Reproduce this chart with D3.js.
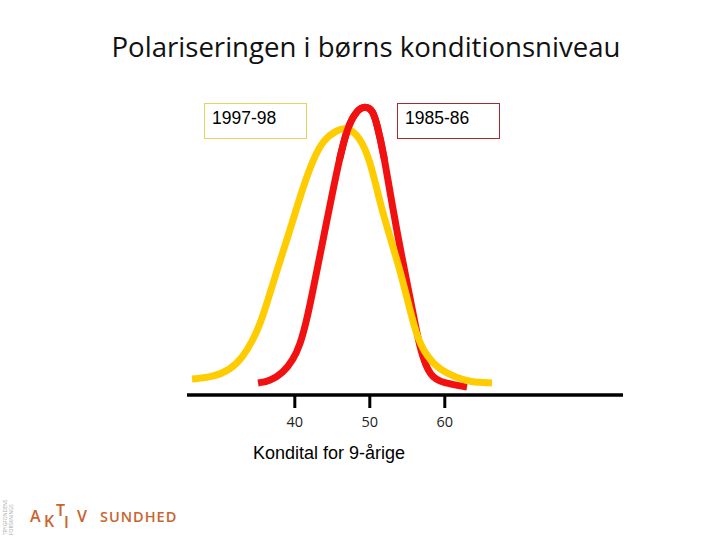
<!DOCTYPE html>
<html><head><meta charset="utf-8">
<script src="https://cdn.jsdelivr.net/npm/d3@7/dist/d3.min.js"></script>
<style>body{margin:0;background:#fff}svg{display:block}</style>
</head><body>
<svg id="c" width="720" height="540"></svg>
<script>
// Data (x = kondital, y = relative frequency)
const series = ["1997-98", "1985-86"];
const tickValues = [40, 50, 60];
const xLabel = "Kondital for 9-årige";
const title = "Polariseringen i børns konditionsniveau";

const yellowX = [26.36,29.16,31.43,33.16,34.49,35.69,37.69,39.43,41.16,42.49,43.83,45.69,47.03,48.76,50.09,51.43,52.76,54.09,55.43,56.36,57.69,59.43,61.69,63.43,66.36];
const yellowY = [5.42,6.10,8.47,12.88,18.64,25.42,42.37,55.93,70.51,79.66,86.44,89.83,90.85,87.46,79.66,65.08,53.56,42.37,28.81,19.66,12.88,8.47,5.76,4.41,4.07];
const redX = [35.16,36.76,38.49,39.83,40.76,41.69,43.03,44.36,45.69,47.03,48.36,49.43,50.49,51.03,51.83,53.16,54.49,55.69,56.76,58.09,59.83,63.03];
const redY = [4.07,4.75,7.46,11.86,16.95,25.42,42.37,59.32,76.27,90.85,96.61,97.97,96.61,91.53,83.05,62.71,44.75,29.83,15.25,6.10,4.07,2.71];

const svg = d3.select("#c");
const x = d3.scaleLinear().domain([25.69, 83.83]).range([187, 623]);
const y = d3.scaleLinear().domain([0, 100]).range([395, 100]);

// title
svg.append("text").attr("x", 366).attr("y", 57).attr("text-anchor", "middle")
  .attr("font-family", "Open Sans, sans-serif").attr("font-size", 27.6)
  .attr("fill", "#111").text(title);

// axis
const axis = d3.axisBottom(x).tickValues(tickValues).tickSize(13).tickSizeOuter(0).tickFormat(d3.format("d"));
const g = svg.append("g").attr("transform", "translate(0,395)").call(axis);
g.select(".domain").attr("stroke", "#000").attr("stroke-width", 3.5).attr("d", "M187,0H623");
g.selectAll(".tick line").attr("stroke", "#000").attr("stroke-width", 3);
g.selectAll(".tick text").attr("dy", 0).attr("y", 32)
  .attr("font-family", "Open Sans, sans-serif").attr("font-size", 14.5).attr("fill", "#222");

svg.append("text").attr("x", 253).attr("y", 459)
  .attr("font-family", "Liberation Sans, Arial, sans-serif").attr("font-size", 18)
  .attr("fill", "#000").text(xLabel);

const line = d3.line().x(d => x(d[0])).y(d => y(d[1])).curve(d3.curveBasis);
const yData = d3.zip(yellowX, yellowY);
const rData = d3.zip(redX, redY);

svg.append("defs").append("clipPath").attr("id", "top")
  .append("rect").attr("x", 0).attr("y", 0).attr("width", 720).attr("height", y(80));

svg.append("path").datum(rData).attr("d", line).attr("fill", "none")
  .attr("stroke", "#F21111").attr("stroke-width", 7).attr("stroke-linecap", "butt");
svg.append("path").datum(yData).attr("d", line).attr("fill", "none")
  .attr("stroke", "#FFCC00").attr("stroke-width", 7).attr("stroke-linecap", "butt");
svg.append("path").datum(rData).attr("d", line).attr("fill", "none").attr("clip-path", "url(#top)")
  .attr("stroke", "#F21111").attr("stroke-width", 7);

// legend boxes
const boxes = [
  {label: series[0], x: 204, stroke: "#E6D35A"},
  {label: series[1], x: 397, stroke: "#A8292E"}
];
boxes.forEach(b => {
  svg.append("rect").attr("x", b.x + 0.5).attr("y", 103.5).attr("width", 102).attr("height", 35)
    .attr("fill", "#fff").attr("stroke", b.stroke).attr("stroke-width", 1);
  svg.append("text").attr("x", b.x + 8).attr("y", 124)
    .attr("font-family", "Liberation Sans, Arial, sans-serif").attr("font-size", 17.5)
    .attr("fill", "#000").text(b.label);
});

// logo
const logo = svg.append("g").attr("fill", "#C9642E").attr("font-family", "Open Sans, sans-serif")
  .attr("font-size", 16).attr("font-weight", 600);
[["A",30,522],["K",44,527],["T",56,516],["I",64,528],["V",77,522]].forEach(d =>
  logo.append("text").attr("x", d[1]).attr("y", d[2]).text(d[0]));
logo.append("text").attr("x", 100).attr("y", 522).attr("letter-spacing", 1).attr("font-size", 14.5).text("SUNDHED");
svg.append("text").attr("transform", "translate(7,535) rotate(-90)")
  .attr("font-family", "Open Sans, sans-serif").attr("font-size", 5).attr("fill", "#aaa").text("TRYGFONDENS");
svg.append("text").attr("transform", "translate(13,535) rotate(-90)")
  .attr("font-family", "Open Sans, sans-serif").attr("font-size", 5).attr("fill", "#aaa").text("FORSKNINGS");
</script>
</body></html>
